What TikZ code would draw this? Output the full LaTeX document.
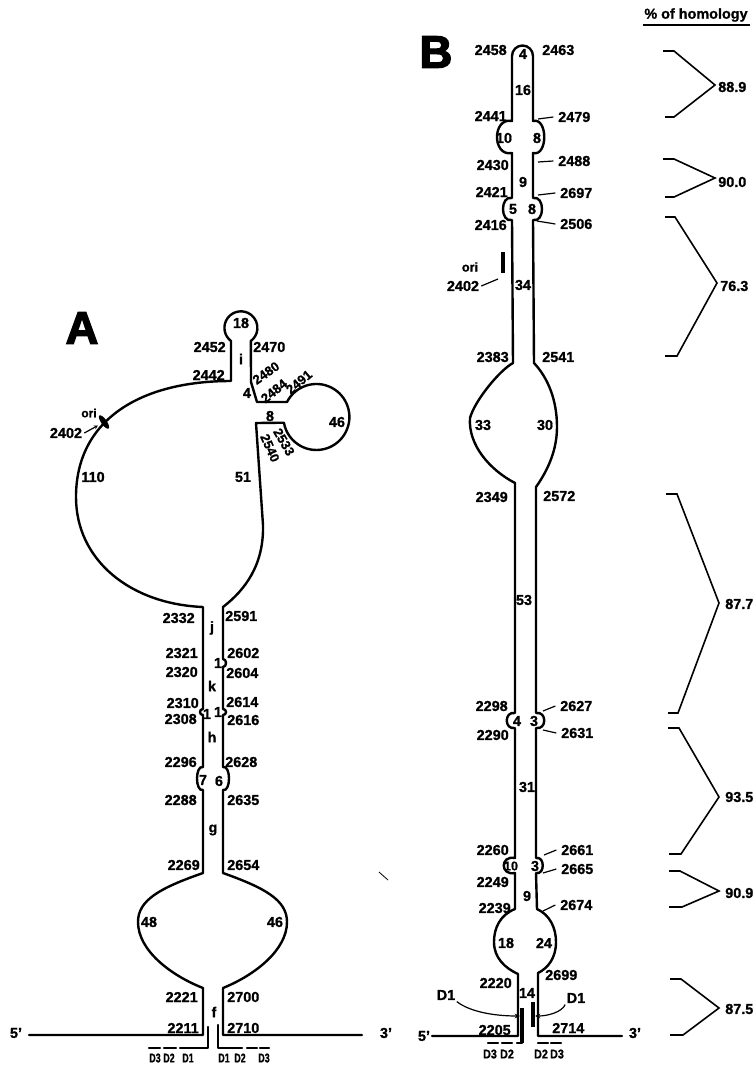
\documentclass[tikz,border=0pt]{standalone}
\usepackage{fontspec}
\setmainfont{Liberation Sans}[BoldFeatures={FakeBold=1}]
\newfontfamily\heavyfont{Liberation Sans}[BoldFeatures={FakeBold=3}]
\usetikzlibrary{arrows.meta}
\begin{document}
\begin{tikzpicture}[x=0.75pt,y=-0.75pt,
  strand/.style={line width=1.8pt,line join=round,line cap=round},
  bar/.style={line width=2.5pt},
  lead/.style={line width=0.9pt},
  brc/.style={line width=1.2pt,line join=miter},
  lab/.style={inner sep=0pt,font=\fontsize{10.8}{12}\selectfont\bfseries},
  rlab/.style={inner sep=0pt,font=\fontsize{9.8}{11}\selectfont\bfseries},
  dlab/.style={inner sep=0pt,font=\fontsize{9.5}{10}\selectfont\bfseries},
  big/.style={inner sep=0pt,font=\fontsize{34}{34}\selectfont\heavyfont\bfseries}]
\fill[white] (0,0) rectangle (756,1065);
\useasboundingbox (0,0) rectangle (756,1065);

% ================= PANEL A =================
\node[big] (A) at (82,328) {A};
\draw[strand] (29,1035) -- (203,1035) -- (203,988)
  .. controls (170,975) and (138,950) .. (138,922)
  .. controls (138,900) and (160,888) .. (203,873)
  -- (203,790) .. controls (195,792) and (195,765) .. (203,767)
  -- (203,715) .. controls (199,715) and (199,709) .. (203,709)
  -- (203,607) .. controls (130,604) and (76,560) .. (76,497)
  .. controls (76,420) and (140,381) .. (231,381)
  -- (231,341) arc[start angle=127,end angle=413,radius=16.5]
  -- (251,382) -- (257,402) -- (287,402)
  arc[start angle=207,end angle=530,radius=33]
  -- (256,423) -- (263,525)
  .. controls (264,565) and (245,590) .. (223,607)
  -- (223,659) .. controls (227,659) and (227,667) .. (223,667)
  -- (223,709) .. controls (227,709) and (227,715) .. (223,715)
  -- (223,767) .. controls (231,765) and (231,792) .. (223,790)
  -- (223,873) .. controls (265,888) and (287,900) .. (287,922)
  .. controls (287,950) and (255,975) .. (223,988)
  -- (223,1035) -- (362,1035);
% bottom strands of A
\draw[strand] (208,1027) -- (208,1048) -- (180,1048);
\draw[strand] (164,1048) -- (176,1048);
\draw[strand] (149,1048) -- (160,1048);
\draw[strand] (218,1025) -- (218,1048) -- (242,1048);
\draw[strand] (247,1048) -- (257,1048);
\draw[strand] (260,1048) -- (269,1048);
% ori mark A
\fill[rotate around={-55:(104,422)}] (104,422) ellipse [x radius=8,y radius=2.8];
\coordinate (oriA) at (98,425.5);
\node[lab,font=\fontsize{9}{10}\selectfont\bfseries] (aori) at (89,413) {ori};
\node[lab] (a2402) at (66,433) {2402};
\draw[lead,-{Stealth[length=3pt,width=3pt]}] ([xshift=1.5pt]a2402.east) -- (oriA);
% stray mark
\draw[line width=0.6pt] (379,872) -- (388,880);

% labels A, left (east anchored)
\foreach \t/\x/\y in {2452/226/347,2442/225/375,2332/195/618,2321/198/653,2320/198/672,
  2310/199/703,2308/197/719,2296/197/762,2288/197/800,2269/200/865,2221/198/997,2211/199/1028}
  \node[lab,anchor=east] (a\t) at (\x,\y) {\t};
% labels A, right (west anchored)
\foreach \t/\x/\y in {2470/253/347,2591/225/616,2602/227/653,2604/226/673,2614/226/702,
  2616/227/720,2628/225/762,2635/227/800,2654/227/865,2700/227/997,2710/227/1028}
  \node[lab,anchor=west] (a\t) at (\x,\y) {\t};
\node[rlab,rotate=35] (a2480) at (266,373) {2480};
\node[rlab,rotate=39] (a2484) at (274,391) {2484};
\node[rlab,rotate=40] (a2491) at (299,382) {2491};
\node[rlab,rotate=-60] (a2533) at (284,442) {2533};
\node[rlab,rotate=-66] (a2540) at (270,448) {2540};
\node[lab] (aL18) at (241,323) {18};
\node[lab] (ai) at (241,359) {i};
\node[lab] (aL4) at (247,393) {4};
\node[lab] (aL8) at (270,416) {8};
\node[lab] (aL46a) at (337,422) {46};
\node[lab] (aL110) at (93,477) {110};
\node[lab] (aL51) at (243,477) {51};
\node[lab] (aj) at (212,628) {j};
\node[lab] (aone1) at (218,663) {1};
\node[lab] (ak) at (212,686) {k};
\node[lab] (aone2) at (207,714) {1};
\node[lab] (aone3) at (218,712) {1};
\node[lab] (ah) at (212,737) {h};
\node[lab] (aL7) at (203,780) {7};
\node[lab] (aL6) at (219,781) {6};
\node[lab] (ag) at (213,830) {g};
\node[lab] (aL48) at (149,922) {48};
\node[lab] (aL46b) at (275,922) {46};
\node[lab] (af) at (214,1012) {f};
\node[lab] (a5p) at (16,1033) {5'};
\node[lab] (a3p) at (386,1033) {3'};
\node[dlab] (aD3l) at (155,1058) {\scalebox{0.7}[1]{D3}};
\node[dlab] (aD2l) at (169,1058) {\scalebox{0.7}[1]{D2}};
\node[dlab] (aD1l) at (188,1058) {\scalebox{0.7}[1]{D1}};
\node[dlab] (aD1r) at (224,1058) {\scalebox{0.7}[1]{D1}};
\node[dlab] (aD2r) at (240,1058) {\scalebox{0.7}[1]{D2}};
\node[dlab] (aD3r) at (264,1058) {\scalebox{0.7}[1]{D3}};

% ================= PANEL B =================
\node[big] (B) at (436,52) {B};
\draw[strand] (432,1036) -- (518,1036) -- (518,974)
  .. controls (505,968) and (494,958) .. (494,942)
  .. controls (494,928) and (500,915) .. (515,909)
  -- (515,873) .. controls (500,876) and (500,855) .. (515,858)
  -- (515,728) .. controls (504,730) and (504,711) .. (515,713)
  -- (515,483) .. controls (490,470) and (468,445) .. (470,418)
  .. controls (475,400) and (500,370) .. (513,363)
  -- (512,220) .. controls (500,223) and (500,195) .. (512,198)
  -- (512,153) .. controls (492,157) and (492,117) .. (512,121)
  -- (512,56) arc[start angle=180,end angle=360,radius=10.5]
  -- (533,121) .. controls (548,117) and (548,157) .. (533,153)
  -- (533,198) .. controls (545,195) and (545,223) .. (533,220)
  -- (534,363) .. controls (548,378) and (557,400) .. (557,427)
  .. controls (557,450) and (548,470) .. (536,487)
  -- (536,713) .. controls (547,711) and (547,730) .. (536,728)
  -- (536,858) .. controls (545,856) and (545,875) .. (536,873)
  -- (537,909) .. controls (550,915) and (556,928) .. (556,942)
  .. controls (556,958) and (548,968) .. (538,973)
  -- (538,1036) -- (622,1036);
% bottom bars of B
\draw[bar] (522,1008) -- (522,1043);
\draw[strand] (522,1043) -- (517,1043);
\draw[bar] (533,1002) -- (533,1027);
\draw[strand] (488,1043) -- (498,1043);
\draw[strand] (502,1043) -- (512,1043);
\draw[strand] (538,1043) -- (548,1043);
\draw[strand] (551,1043) -- (561,1043);
% ori bar B
\draw[bar] (503,252) -- (503,273);
\coordinate (oriB) at (498,279);
\node[lab,font=\fontsize{9.5}{10}\selectfont\bfseries] (bori) at (470,267) {ori};
\node[lab] (b2402) at (463,286) {2402};
\draw[lead] ([xshift=1.5pt]b2402.east) -- (oriB);

% labels B, left
\foreach \t/\x/\y in {2458/507/50,2441/507/116,2430/509/165,2421/508/192,2416/507/225,
  2383/509/357,2349/508/497,2298/508/706,2290/509/735,2260/509/850,2249/509/882,
  2239/511/908,2220/512/983,2205/511/1030}
  \node[lab,anchor=east] (b\t) at (\x,\y) {\t};
% labels B, right without leaders
\foreach \t/\x/\y in {2463/542/50,2541/542/357,2572/543/496,2699/545/975,2714/552/1028}
  \node[lab,anchor=west] (b\t) at (\x,\y) {\t};
% labels B, right with leaders
\foreach \t/\x/\y/\px/\py in {2479/558/117/538/119,2488/558/161/538/162,2697/560/193/538/195,
  2506/560/224/537/221,2627/560/706/543/711,2631/561/733/543/730,2661/561/850/544/855,
  2665/561/869/543/873,2674/560/905/543/911}{
  \node[lab,anchor=west] (b\t) at (\x,\y) {\t};
  \coordinate (p\t) at (\px,\py);
  \draw[lead] ([xshift=-3.5pt]b\t.west) -- (p\t);
}
\node[lab] (bL4a) at (523,54) {4};
\node[lab] (bL16) at (523,90) {16};
\node[lab] (bL10a) at (504,138) {10};
\node[lab] (bL8a) at (537,138) {8};
\node[lab] (bL9a) at (523,182) {9};
\node[lab] (bL5) at (513,209) {5};
\node[lab] (bL8b) at (532,209) {8};
\node[lab] (bL34) at (523,285) {34};
\node[lab] (bL33) at (483,425) {33};
\node[lab] (bL30) at (545,425) {30};
\node[lab] (bL53) at (524,600) {53};
\node[lab] (bL4b) at (517,721) {4};
\node[lab] (bL3a) at (534,721) {3};
\node[lab] (bL31) at (527,787) {31};
\node[lab,font=\fontsize{9.5}{11}\selectfont\bfseries] (bL10b) at (511,866) {10};
\node[lab] (bL3b) at (535,866) {3};
\node[lab] (bL9b) at (527,896) {9};
\node[lab] (bL18) at (506,943) {18};
\node[lab] (bL24) at (544,943) {24};
\node[lab] (bL14) at (527,993) {14};
\node[lab] (bD1l) at (446,995) {D1};
\node[lab] (bD1r) at (576,998) {D1};
\coordinate (tipL) at (520,1016);
\coordinate (tipR) at (535,1016);
\draw[lead,-{Stealth[length=4pt,width=3.5pt]}] ([xshift=1pt,yshift=-1pt]bD1l.south east) .. controls (470,1012) and (495,1016) .. (tipL);
\draw[lead,-{Stealth[length=4pt,width=3.5pt]}] ([xshift=-1pt,yshift=-1pt]bD1r.south west) .. controls (562,1012) and (548,1016) .. (tipR);
\node[lab] (b5p) at (424,1036) {5'};
\node[lab] (b3p) at (635,1033) {3'};
\node[dlab] (bD3l) at (490,1054) {\scalebox{0.85}[1]{D3}};
\node[dlab] (bD2l) at (507,1054) {\scalebox{0.85}[1]{D2}};
\node[dlab] (bD2r) at (541,1054) {\scalebox{0.85}[1]{D2}};
\node[dlab] (bD3r) at (557,1054) {\scalebox{0.85}[1]{D3}};

% ================= HOMOLOGY =================
\node[lab,font=\fontsize{10.8}{12}\selectfont\bfseries] (hom) at (696,15) {\% of homology};
\draw[line width=1.3pt] (643,25) -- (750,25);
\draw[brc] (663,51) -- (674,51) -- (715,85) -- (674,117) -- (665,117);
\node[lab,anchor=west] (h889) at (718,87) {88.9};
\draw[brc] (663,159) -- (674,159) -- (715,178) -- (674,197) -- (665,197);
\node[lab,anchor=west] (h900) at (718,182) {90.0};
\draw[brc] (665,217) -- (675,217) -- (717,283) -- (677,356) -- (665,356);
\node[lab,anchor=west] (h763) at (720,286) {76.3};
\draw[brc] (666,494) -- (677,494) -- (719,603) -- (678,713) -- (668,713);
\node[lab,anchor=west] (h877) at (725,604) {87.7};
\draw[brc] (668,728) -- (679,728) -- (719,797) -- (681,854) -- (669,854);
\node[lab,anchor=west] (h935) at (725,797) {93.5};
\draw[brc] (669,871) -- (680,871) -- (719,891) -- (682,907) -- (669,907);
\node[lab,anchor=west] (h909) at (725,893) {90.9};
\draw[brc] (670,979) -- (681,979) -- (719,1008) -- (683,1035) -- (670,1035);
\node[lab,anchor=west] (h875) at (725,1009) {87.5};
\end{tikzpicture}
\end{document}
